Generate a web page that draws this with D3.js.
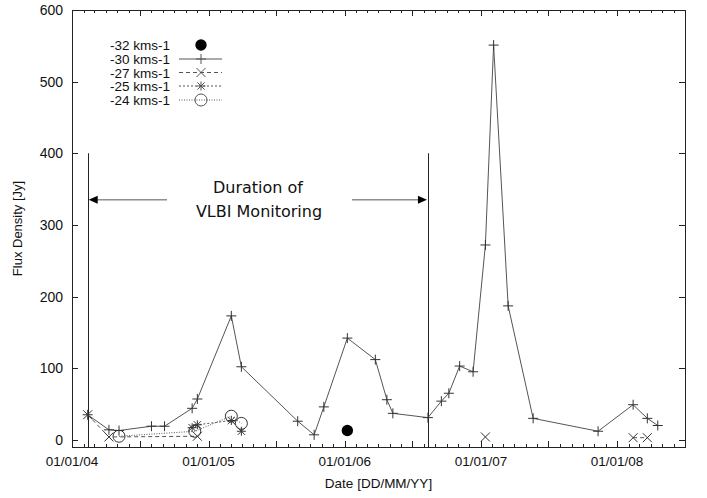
<!DOCTYPE html>
<html>
<head>
<meta charset="utf-8">
<script src="https://cdn.jsdelivr.net/npm/d3@7"></script>
<style>
  body { margin: 0; background: #fff; }
  text { font-family: "Liberation Sans", Arial, sans-serif; fill: #111; }
</style>
</head>
<body>
<div id="zone"></div>
<script>
(function() {
  "use strict";

  // dimensions de la fenetre
  var width = 707, height = 498;
  var margin = {top: 10, right: 22, bottom: 51, left: 72};

  var parse = d3.timeParse("%Y-%m-%d");

  // -30 kms-1 (croix +, trait plein)
  var dates30 = ["2004-02-12","2004-04-09","2004-05-06","2004-08-01","2004-09-05","2004-11-18","2004-12-02",
                 "2005-03-03","2005-03-30","2005-08-28","2005-10-11","2005-11-06","2006-01-08","2006-03-24",
                 "2006-04-24","2006-05-10","2006-08-12","2006-09-17","2006-10-07","2006-11-05","2006-12-11",
                 "2007-01-13","2007-02-04","2007-03-15","2007-05-21","2007-11-11","2008-02-13","2008-03-22","2008-04-19"];
  var flux30 = [35, 14, 13, 19, 19, 44, 57,
                173, 102, 26, 7, 46, 142, 112,
                56, 37, 31, 54, 65, 103, 95,
                272, 551, 187, 30, 12, 49, 30, 20];

  // -27 kms-1 (x, tirets) ; segs27 = morceaux de ligne relies
  var dates27 = ["2004-02-12","2004-04-09","2004-12-02","2007-01-13","2008-02-13","2008-03-22"];
  var flux27  = [35, 4, 5, 4, 3, 3];
  var segs27  = [[0, 1, 2], [3], [4, 5]];

  // -25 kms-1 (etoile, pointilles)
  var dates25 = ["2004-11-18","2004-12-02","2005-03-03","2005-03-30"];
  var flux25  = [17, 21, 27, 12];

  // -24 kms-1 (cercle vide, points)
  var dates24 = ["2004-05-06","2004-11-25","2005-03-03","2005-03-30"];
  var flux24  = [5, 12, 33, 23];

  // -32 kms-1 (disque plein)
  var dates32 = ["2006-01-08"];
  var flux32  = [13];

  // debut / fin du suivi VLBI
  var vlbiDates = ["2004-02-12","2006-08-12"];

  var yTicks = [0, 100, 200, 300, 400, 500, 600];

  var svg = d3.select("#zone").append("svg")
      .attr("width", width)
      .attr("height", height);

  var x = d3.scaleTime()
      .domain([parse("2004-01-01"), parse("2008-07-01")])
      .range([margin.left, width - margin.right]);

  var y = d3.scaleLinear()
      .domain([-10, 600])
      .range([height - margin.bottom, margin.top]);

  var x0 = margin.left, x1 = width - margin.right;
  var y0 = height - margin.bottom, y1 = margin.top;

  // ticks de l'axe x : mois (petits), semestres (grands)
  var months = d3.timeMonth.range(x.domain()[0], d3.timeMonth.offset(x.domain()[1], 1));
  var gTicks = svg.append("g").attr("stroke", "#222").attr("stroke-width", 1);
  months.forEach(function(m) {
    var len = (m.getMonth() % 6 === 0) ? 6 : 3;
    var px = Math.round(x(m)) + 0.5;
    gTicks.append("line").attr("x1", px).attr("x2", px).attr("y1", y0).attr("y2", y0 - len);
    gTicks.append("line").attr("x1", px).attr("x2", px).attr("y1", y1).attr("y2", y1 + len);
  });
  yTicks.forEach(function(v) {
    var py = Math.round(y(v)) + 0.5;
    gTicks.append("line").attr("x1", x0).attr("x2", x0 + 6).attr("y1", py).attr("y2", py);
    gTicks.append("line").attr("x1", x1).attr("x2", x1 - 6).attr("y1", py).attr("y2", py);
  });

  // cadre
  svg.append("rect")
      .attr("x", x0 + 0.5).attr("y", y1 + 0.5)
      .attr("width", x1 - x0).attr("height", y0 - y1)
      .attr("fill", "none").attr("stroke", "#222");

  // labels
  var fmt = d3.timeFormat("%d/%m/%y");
  svg.append("g").selectAll("text")
      .data(months.filter(function(m) { return m.getMonth() === 0; }))
      .join("text")
      .attr("x", function(d) { return x(d); })
      .attr("y", y0 + 19)
      .attr("text-anchor", "middle")
      .style("font-size", "13.5px")
      .text(fmt);

  svg.append("g").selectAll("text")
      .data(yTicks)
      .join("text")
      .attr("x", x0 - 9)
      .attr("y", function(d) { return y(d) + 5; })
      .attr("text-anchor", "end")
      .style("font-size", "14px")
      .text(function(d) { return d; });

  svg.append("text")
      .attr("x", (x0 + x1) / 2).attr("y", 488)
      .attr("text-anchor", "middle")
      .style("font-size", "13.5px")
      .text("Date [DD/MM/YY]");

  svg.append("text")
      .attr("transform", "translate(22," + ((y0 + y1) / 2) + ") rotate(-90)")
      .attr("text-anchor", "middle")
      .style("font-size", "13px")
      .text("Flux Density [Jy]");

  // lignes verticales VLBI + fleches
  var gV = svg.append("g");
  vlbiDates.forEach(function(d) {
    var px = Math.round(x(parse(d))) + 0.5;
    gV.append("line").attr("x1", px).attr("x2", px)
      .attr("y1", y(400)).attr("y2", y0).attr("stroke", "#222");
  });
  var xa = x(parse(vlbiDates[0])), xb = x(parse(vlbiDates[1])), ya = y(335);
  gV.append("line").attr("x1", 167).attr("x2", xa + 6).attr("y1", ya).attr("y2", ya).attr("stroke", "#555");
  gV.append("line").attr("x1", 352).attr("x2", xb - 6).attr("y1", ya).attr("y2", ya).attr("stroke", "#555");
  gV.append("path").attr("d", "M" + (xa + 1) + "," + ya + "l9,-4l0,8z").attr("fill", "#000");
  gV.append("path").attr("d", "M" + (xb - 1) + "," + ya + "l-9,-4l0,8z").attr("fill", "#000");
  var gText = svg.append("g");
  gText.append("text").attr("x", 258).attr("y", 193).attr("text-anchor", "middle")
      .style("font-family", "'DejaVu Sans', sans-serif").style("font-size", "16px").text("Duration of");
  gText.append("text").attr("x", 259).attr("y", 217).attr("text-anchor", "middle")
      .style("font-family", "'DejaVu Sans', sans-serif").style("font-size", "16px").text("VLBI Monitoring");

  // symboles
  function plus(g, cx, cy, s) {
    g.append("path").attr("d", "M" + (cx - s) + "," + cy + "h" + (2 * s) + "M" + cx + "," + (cy - s) + "v" + (2 * s));
  }
  function cross(g, cx, cy, s) {
    g.append("path").attr("d", "M" + (cx - s) + "," + (cy - s) + "l" + (2 * s) + "," + (2 * s) +
      "M" + (cx - s) + "," + (cy + s) + "l" + (2 * s) + "," + (-2 * s));
  }
  function star(g, cx, cy, s) {
    plus(g, cx, cy, s); cross(g, cx, cy, s * 0.8);
  }
  function circ(g, cx, cy, s) {
    g.append("circle").attr("cx", cx).attr("cy", cy).attr("r", s).attr("fill", "none");
  }

  var line = d3.line().x(function(d) { return x(d[0]); }).y(function(d) { return y(d[1]); });

  function pts(dates, vals) {
    return dates.map(function(d, i) { return [parse(d), vals[i]]; });
  }

  var series = [
    {name: "-30 kms-1", data: pts(dates30, flux30), segs: null, dash: null, sym: plus, size: 5},
    {name: "-27 kms-1", data: pts(dates27, flux27), segs: segs27, dash: "4,3", sym: cross, size: 4.5},
    {name: "-25 kms-1", data: pts(dates25, flux25), segs: null, dash: "2,2", sym: star, size: 4.5},
    {name: "-24 kms-1", data: pts(dates24, flux24), segs: null, dash: "1,1.5", sym: circ, size: 6}
  ];

  var gData = svg.append("g").attr("fill", "none").attr("stroke", "#555").attr("stroke-width", 1);

  series.forEach(function(s) {
    var segs = s.segs || [d3.range(s.data.length)];
    segs.forEach(function(idx) {
      if (idx.length < 2) return;
      gData.append("path")
        .attr("d", line(idx.map(function(i) { return s.data[i]; })))
        .attr("stroke-dasharray", s.dash);
    });
    var gs = gData.append("g").attr("stroke", "#333");
    s.data.forEach(function(d) { s.sym(gs, x(d[0]), y(d[1]), s.size); });
  });

  pts(dates32, flux32).forEach(function(d) {
    svg.append("circle").attr("cx", x(d[0])).attr("cy", y(d[1])).attr("r", 5.7).attr("fill", "#000");
  });

  // legende
  var legNames = ["-32 kms-1", "-30 kms-1", "-27 kms-1", "-25 kms-1", "-24 kms-1"];
  var legY = [45, 59, 72.5, 86, 100];
  var gLeg = svg.append("g");
  legNames.forEach(function(n, i) {
    gLeg.append("text").attr("x", 170).attr("y", legY[i] + 5)
      .attr("text-anchor", "end").style("font-size", "13.5px").text(n);
  });
  gLeg.append("circle").attr("cx", 201).attr("cy", legY[0]).attr("r", 5.7).attr("fill", "#000");
  var gLs = gLeg.append("g").attr("fill", "none").attr("stroke", "#555");
  series.forEach(function(s, i) {
    var ly = legY[i + 1];
    gLs.append("line").attr("x1", 179).attr("x2", 222).attr("y1", ly).attr("y2", ly)
      .attr("stroke-dasharray", s.dash);
    s.sym(gLs, 201, ly, s.size);
  });

})();
</script>
</body>
</html>
